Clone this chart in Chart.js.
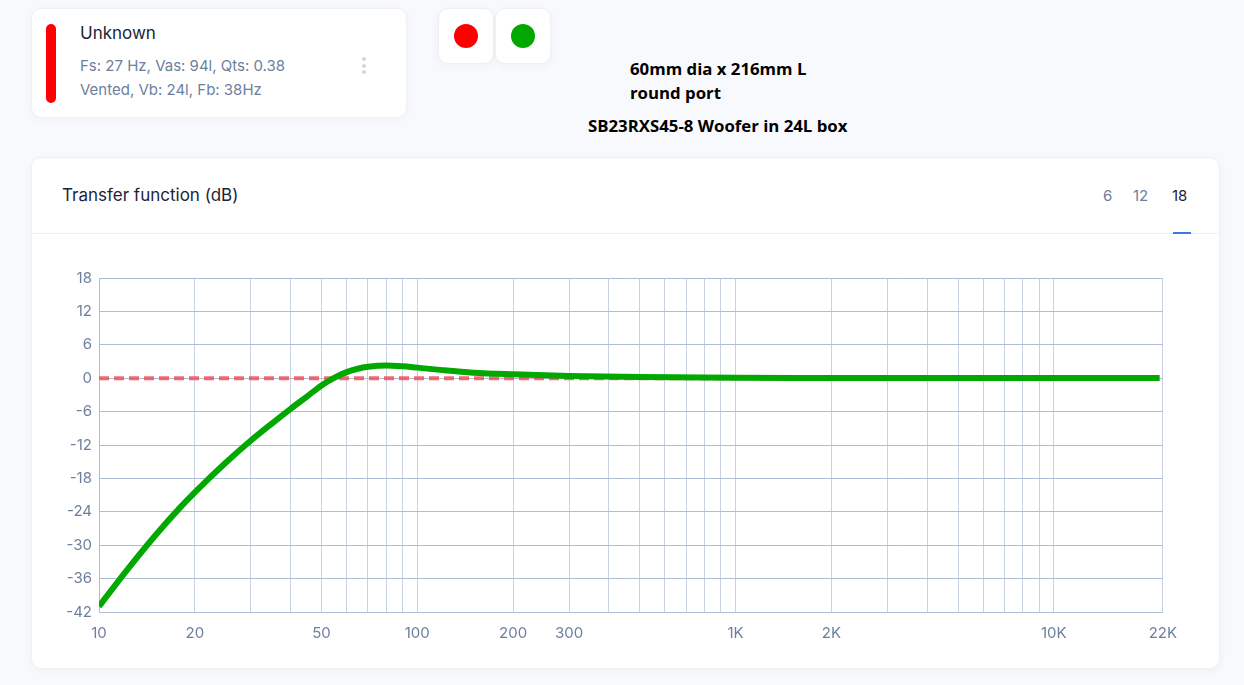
<!DOCTYPE html>
<html>
<head>
<meta charset="utf-8">
<script src="https://cdn.jsdelivr.net/npm/chart.js@4"></script>
<style>
  body { margin: 0; background: #f8f9fc; font-family: Inter, 'Noto Sans', sans-serif; width: 1244px; height: 685px; overflow: hidden; position: relative; }
  .card { position: absolute; background: #fff; border: 1px solid #edf0f5; border-radius: 10px; box-shadow: 0 2px 8px rgba(30,50,90,0.04); }
  .driver { left: 31px; top: 8px; width: 374px; height: 108px; }
  .bar { position: absolute; left: 14px; top: 15px; width: 10px; height: 79px; background: #ff0000; border-radius: 5px; }
  .name { position: absolute; left: 48px; top: 14px; font-size: 17px; color: #1c2536; }
  .spec { position: absolute; left: 48px; font-size: 15px; color: #6c7f9d; }
  .dots { position: absolute; left: 330px; top: 48px; width: 4px; }
  .dots i { display: block; width: 4px; height: 4px; border-radius: 2px; background: #cfd7e3; margin-bottom: 2.5px; }
  .sw { top: 8px; width: 54px; height: 54px; }
  .sw span { position: absolute; left: 15px; top: 15px; width: 24px; height: 24px; border-radius: 12px; }
  .note { position: absolute; font-family: 'Open Sans', sans-serif; font-weight: 700; font-size: 16.8px; color: #000; line-height: 24px; }
  .main { left: 31px; top: 157px; width: 1187px; height: 510px; }
  .head { position: absolute; left: 0; top: 0; right: 0; height: 75px; border-bottom: 1px solid #edf0f5; }
  .title { position: absolute; left: 30px; top: 27px; font-size: 17px; color: #1c2536; }
  .tabs { position: absolute; top: 28px; font-size: 15px; color: #6c7f9d; }
  .under { position: absolute; left: 1141px; top: 74px; width: 18px; height: 2px; background: #3a7be0; }
  #wrap { position: absolute; left: 40px; top: 262px; width: 1149px; height: 385px; }
</style>
</head>
<body>
<div class="card driver">
  <div class="bar"></div>
  <div class="name">Unknown</div>
  <div class="spec" style="top:47px">Fs: 27 Hz, Vas: 94l, Qts: 0.38</div>
  <div class="spec" style="top:71px">Vented, Vb: 24l, Fb: 38Hz</div>
  <div class="dots"><i></i><i></i><i></i></div>
</div>
<div class="card sw" style="left:438px"><span style="background:#ff0000"></span></div>
<div class="card sw" style="left:495px"><span style="background:#00a800"></span></div>
<div class="note" style="left:630px; top:57px">60mm dia x 216mm L<br>round port</div>
<div class="note" style="left:588px; top:114px">SB23RXS45-8 Woofer in 24L box</div>
<div class="card main">
  <div class="head">
    <div class="title">Transfer function (dB)</div>
    <div class="tabs" style="left:1071px">6</div>
    <div class="tabs" style="left:1101px">12</div>
    <div class="tabs" style="left:1140px; color:#1c2536">18</div>
    <div class="under"></div>
  </div>
</div>
<div id="wrap"><canvas id="tf"></canvas></div>
<script>
const freqs = [10, 12, 15, 18, 20, 25, 30, 35, 40, 45, 50, 55, 60, 65, 70, 80, 90, 100, 120, 150, 200, 300, 500, 1000, 2000, 5000, 10000, 21500];
const vented_db = [-41, -35.1, -28.3, -23.2, -20.5, -15.2, -11.2, -8.1, -5.5, -3.3, -1.3, 0.1, 1.1, 1.7, 2.05, 2.3, 2.15, 1.9, 1.45, 1.0, 0.7, 0.4, 0.2, 0.06, 0.03, 0.02, 0.02, 0.02];
const ref_freqs = [10, 22000];
const ref_db = [0, 0];
const grid_ticks = [10, 20, 30, 40, 50, 60, 70, 80, 90, 100, 200, 300, 400, 500, 600, 700, 800, 900,
  1000, 2000, 3000, 4000, 5000, 6000, 7000, 8000, 9000, 10000, 22000];
const x_labels = { 10: '10', 20: '20', 50: '50', 100: '100', 200: '200', 300: '300', 1000: '1K', 2000: '2K', 10000: '10K', 22000: '22K' };

const ctx = document.getElementById('tf').getContext('2d');
const tf_chart = new Chart(ctx, {
  type: 'line',
  data: {
    datasets: [{
      label: 'Vented',
      data: freqs.map((f, i) => ({ x: f, y: vented_db[i] })),
      borderColor: '#00a800',
      borderWidth: 6,
      pointRadius: 0,
      cubicInterpolationMode: 'monotone',
      order: 1
    }, {
      label: 'Reference',
      data: ref_freqs.map((f, i) => ({ x: f, y: ref_db[i] })),
      borderColor: 'rgba(242, 80, 90, 0.85)',
      borderWidth: 4,
      borderDash: [10, 5],
      pointRadius: 0,
      order: 2
    }]
  },
  options: {
    responsive: true,
    maintainAspectRatio: false,
    animation: false,
    layout: { padding: { top: 15, right: 20, left: 0, bottom: 0 } },
    plugins: { legend: { display: false }, tooltip: { enabled: false } },
    scales: {
      x: {
        type: 'logarithmic',
        min: 10,
        max: 22000,
        afterBuildTicks: scale => { scale.ticks = grid_ticks.map(v => ({ value: v })); },
        afterFit: scale => { scale.height = 35; },
        grid: { color: '#c8d2e4', drawTicks: false },
        border: { color: '#aebcd6' },
        ticks: {
          autoSkip: false,
          maxRotation: 0,
          padding: 12,
          color: '#6c7f9d',
          font: { family: 'Inter', size: 15 },
          callback: v => x_labels[v] || ''
        }
      },
      y: {
        min: -42,
        max: 18,
        afterFit: scale => { scale.width = 59; },
        grid: { color: '#aebcd6', drawTicks: false },
        border: { color: '#aebcd6' },
        ticks: {
          stepSize: 3,
          padding: 7,
          color: '#6c7f9d',
          font: { family: 'Inter', size: 15 },
          callback: v => (v % 6 === 0 ? v : '')
        }
      }
    }
  }
});
</script>
</body>
</html>
